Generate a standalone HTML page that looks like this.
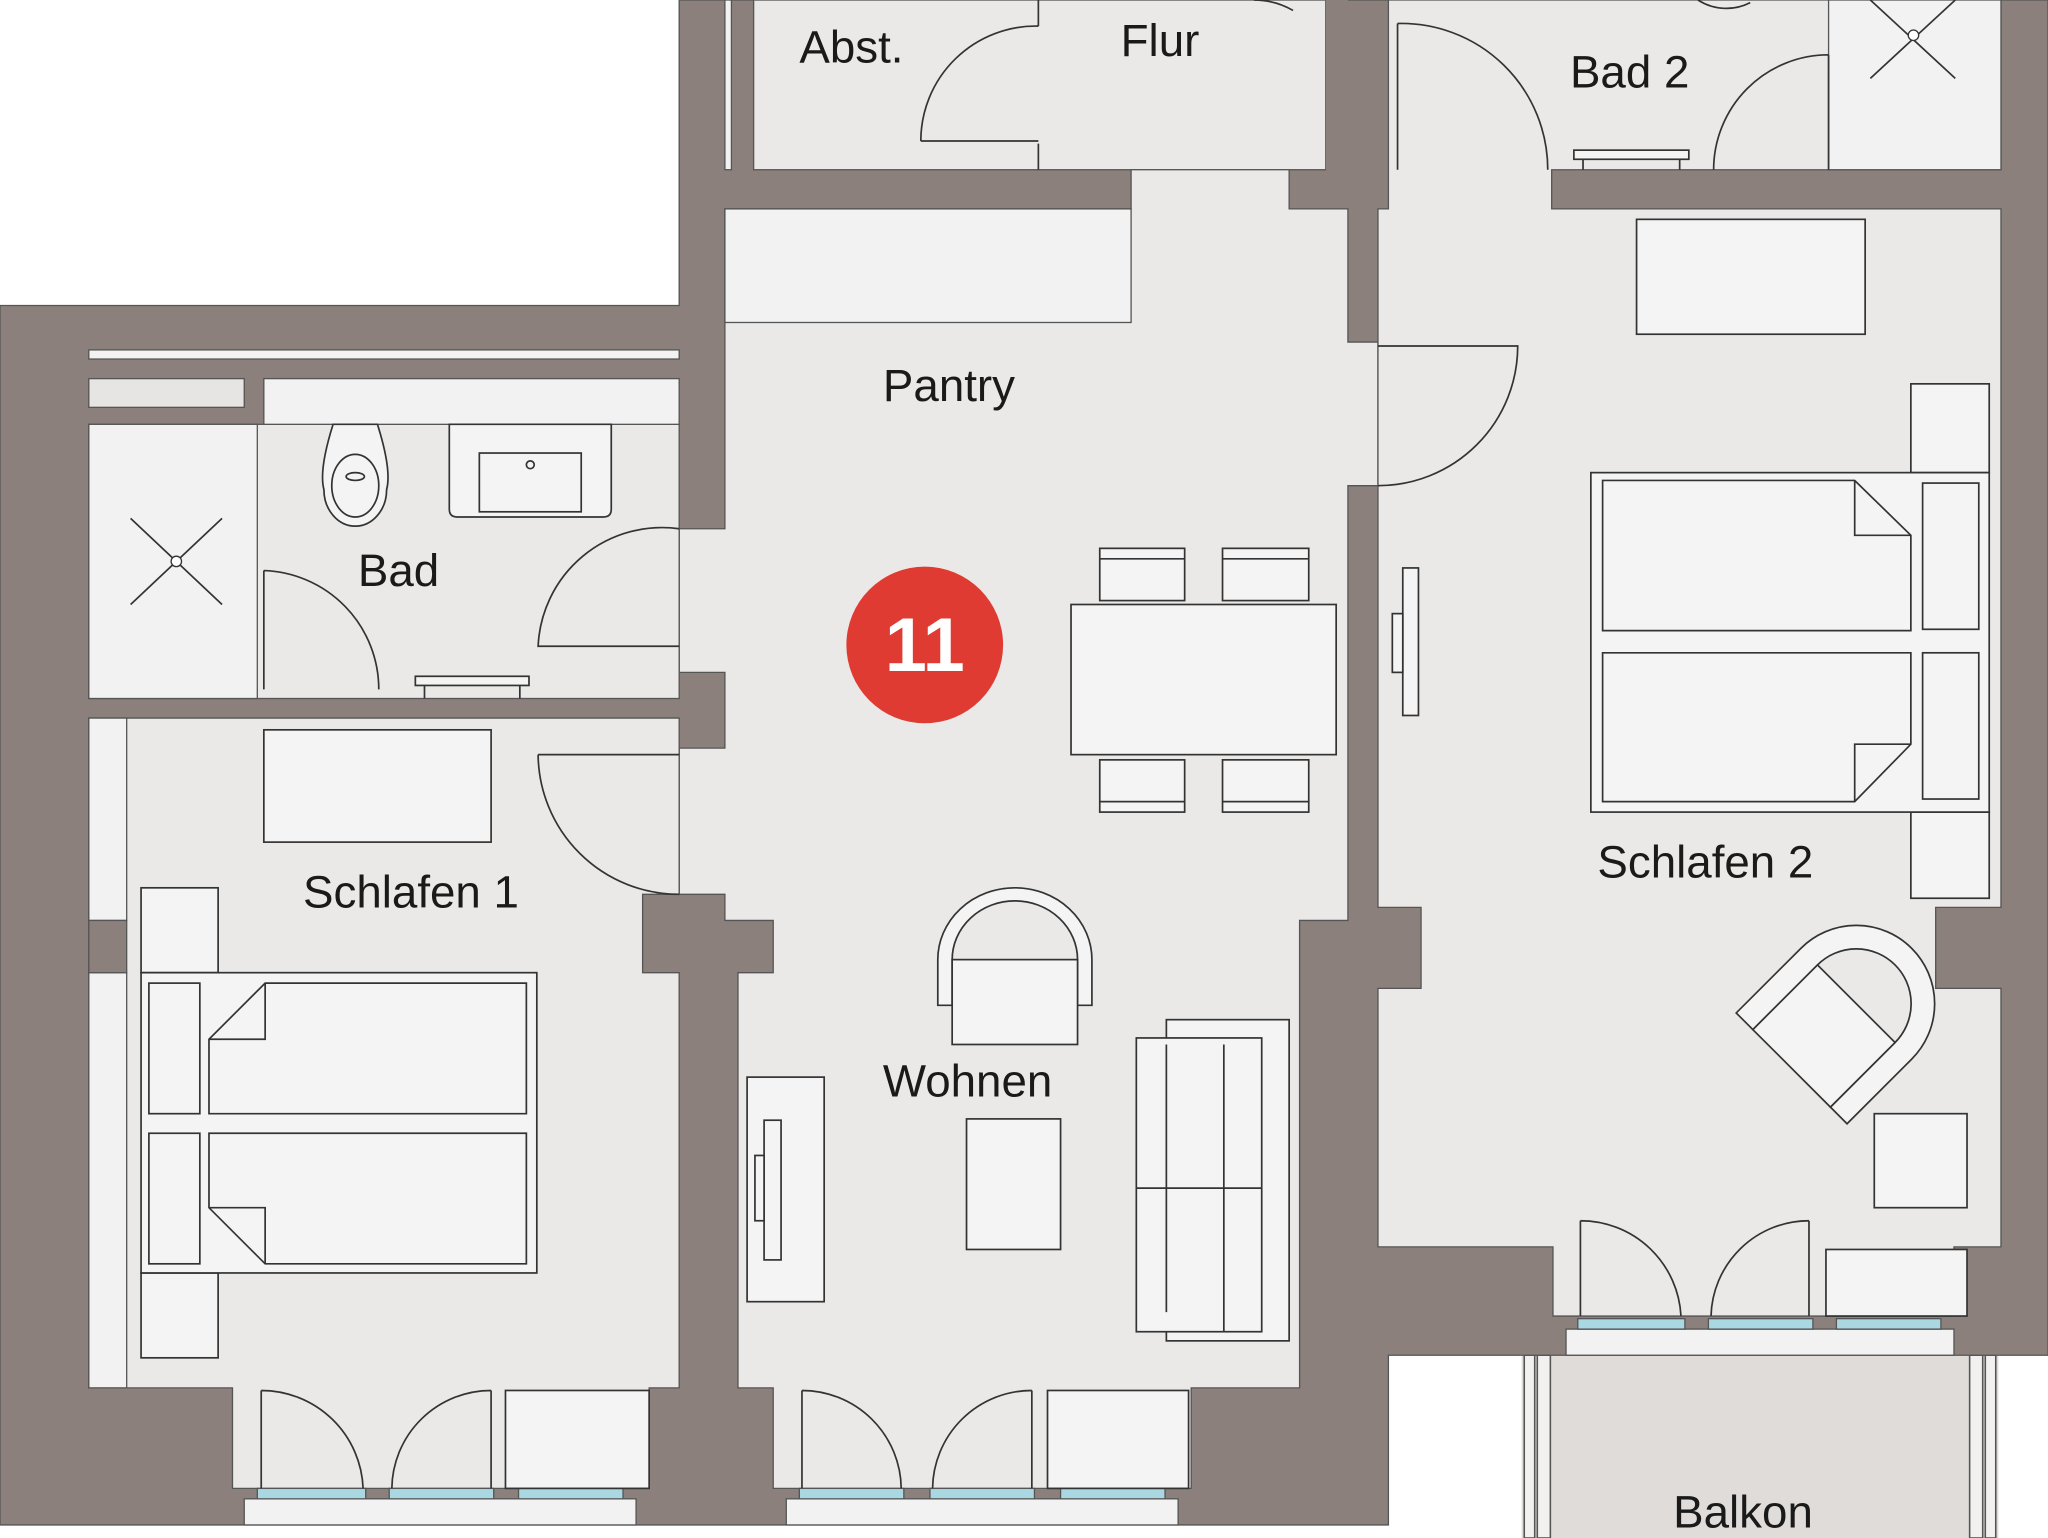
<!DOCTYPE html>
<html><head><meta charset="utf-8"><style>
html,body{margin:0;padding:0;background:#fff;}
svg{display:block}
text{font-family:"Liberation Sans",sans-serif;font-size:35px;fill:#1a1a1a;}
</style></head><body>
<svg width="2048" height="1538" viewBox="0 0 1568 1178" preserveAspectRatio="none" xmlns="http://www.w3.org/2000/svg">
<rect width="1568" height="1178" fill="#fff"/>
<rect x="1165" y="1038" width="365" height="140" fill="#dfdcda"/>
<g stroke="#555" stroke-width="1.2" fill="#f2f1f0">
<rect x="1167" y="1038" width="8" height="140"/><rect x="1177" y="1038" width="10" height="140"/>
<rect x="1508" y="1038" width="10" height="140"/><rect x="1520" y="1038" width="8" height="140"/>
</g>
<path d="M0,234 L520,234 L520,0 L1568,0 L1568,1038 L1063,1038 L1063,1168 L0,1168 Z" fill="#8b807b" stroke="#555" stroke-width="1"/>
<g fill="#eae9e7" stroke="#555" stroke-width="1">
<rect x="577" y="0" width="438" height="130"/>
<rect x="555" y="0" width="5" height="130" fill="#f3f2f2"/>
<path d="M555,160 L866,160 L866,130 L987,130 L987,160 L1032,160 L1032,262 L1055,262 L1055,372 L1032,372 L1032,705 L995,705 L995,1063 L912,1063 L912,1140 L592,1140 L592,1063 L565,1063 L565,745 L592,745 L592,705 L555,705 L555,685 L520,685 L520,573 L555,573 L555,515 L520,515 L520,405 L555,405 Z"/>
<rect x="1015" y="0" width="17" height="130" fill="#8b807b" stroke="none"/>
<path d="M1063,0 L1532,0 L1532,130 L1188,130 L1188,160 L1532,160 L1532,695 L1482,695 L1482,757 L1532,757 L1532,955 L1496,955 L1496,1008 L1189,1008 L1189,955 L1055,955 L1055,757 L1088,757 L1088,695 L1055,695 L1055,160 L1063,160 Z"/>
<rect x="68" y="325" width="452" height="210"/>
<path d="M68,550 L520,550 L520,685 L492,685 L492,745 L520,745 L520,1063 L497,1063 L497,1140 L178,1140 L178,1063 L68,1063 Z"/>
</g>
<g fill="#f3f2f2" stroke="#555" stroke-width="1">
<rect x="555" y="160" width="311" height="87"/>
<rect x="68" y="268" width="452" height="7"/>
<rect x="68" y="290" width="119" height="22" fill="#e6e5e3"/>
<rect x="202" y="290" width="318" height="35"/>
<rect x="68" y="325" width="129" height="210"/>
<rect x="68" y="550" width="29" height="155"/>
<rect x="68" y="745" width="29" height="318"/>
<rect x="68" y="705" width="29" height="40" fill="#8b807b"/>
<rect x="1400" y="0" width="132" height="130"/>
<rect x="187" y="1148" width="300" height="20"/>
<rect x="602" y="1148" width="300" height="20"/>
<rect x="1199" y="1018" width="297" height="20"/>
</g>
<g fill="#a9d8e3" stroke="#555" stroke-width="1">
<rect x="197" y="1140" width="83" height="8"/><rect x="298" y="1140" width="80" height="8"/><rect x="397" y="1140" width="80" height="8"/>
<rect x="612" y="1140" width="80" height="8"/><rect x="712" y="1140" width="80" height="8"/><rect x="812" y="1140" width="80" height="8"/>
<rect x="1208" y="1010" width="82" height="8"/><rect x="1308" y="1010" width="80" height="8"/><rect x="1406" y="1010" width="80" height="8"/>
</g>
<g fill="none" stroke="#333" stroke-width="1.3">
<path d="M202,437 L202,528 M202,437 A91,91 0 0 1 290,528"/>
<path d="M520,405 A95,95 0 0 0 412,495 L520,495"/>
<path d="M412,578 L520,578 M412,578 A108,108 0 0 0 520,685"/>
<path d="M1055,265 L1162,265 A107,107 0 0 1 1055,372"/>
<path d="M1070,18 L1070,130 M1070,18 A112,112 0 0 1 1185,130"/>
<path d="M1400,42 L1400,130 M1312,130 A88,88 0 0 1 1400,42"/>
<path d="M705,108 L795,108 M705,108 A88,88 0 0 1 795,20 M795,0 L795,20 M795,110 L795,130"/>
<path d="M960,0 A60,60 0 0 1 990,8"/>
<path d="M1300,0 A40,40 0 0 0 1340,2"/>
<path d="M200,1065 L200,1140 M200,1065 A78,78 0 0 1 278,1140"/>
<path d="M376,1065 L376,1140 M376,1065 A76,76 0 0 0 300,1140"/>
<path d="M614,1065 L614,1140 M614,1065 A76,76 0 0 1 690,1140"/>
<path d="M790,1065 L790,1140 M790,1065 A76,76 0 0 0 714,1140"/>
<path d="M1210,935 L1210,1008 M1210,935 A77,77 0 0 1 1287,1008"/>
<path d="M1385,935 L1385,1008 M1385,935 A75,75 0 0 0 1310,1008"/>
<path d="M100,397 L170,463 M170,397 L100,463"/>
<path d="M1432,0 L1497,60 M1497,0 L1432,60"/>
</g>
<circle cx="135" cy="430" r="4" fill="#fff" stroke="#333"/>
<circle cx="1465" cy="27" r="4" fill="#fff" stroke="#333"/>
<g fill="#f4f4f4" stroke="#333" stroke-width="1.3">
<rect x="387" y="1065" width="110" height="75"/>
<rect x="802" y="1065" width="108" height="75"/>
<rect x="1398" y="957" width="108" height="51"/>
<path d="M255,325 L289,325 Q300,360 296,375 A24,28 0 0 1 248,375 Q244,360 255,325 Z"/>
<ellipse cx="272" cy="372" rx="18" ry="24"/>
<ellipse cx="272" cy="365" rx="7" ry="3"/>
<path d="M344,325 L468,325 L468,390 Q468,396 462,396 L350,396 Q344,396 344,390 Z"/>
<rect x="367" y="347" width="78" height="45"/>
<circle cx="406" cy="356" r="3"/>
<rect x="318" y="518" width="87" height="7"/><path d="M325,525 L325,535 M398,525 L398,535"/>
<rect x="1205" y="115" width="88" height="7"/><path d="M1212,122 L1212,130 M1286,122 L1286,130"/>
<rect x="1253" y="168" width="175" height="88"/>
<rect x="1463" y="294" width="60" height="68"/>
<rect x="1463" y="622" width="60" height="66"/>
<rect x="1218" y="362" width="305" height="260"/>
<path d="M1227,368 L1420,368 L1463,410 L1463,483 L1227,483 Z"/>
<path d="M1420,368 L1420,410 L1463,410" fill="none"/>
<path d="M1227,500 L1463,500 L1463,570 L1420,614 L1227,614 Z"/>
<path d="M1420,614 L1420,570 L1463,570" fill="none"/>
<rect x="1472" y="370" width="43" height="112"/>
<rect x="1472" y="500" width="43" height="112"/>
<rect x="1074" y="435" width="12" height="113"/>
<rect x="1066" y="470" width="8" height="45"/>
<g transform="rotate(45 1400 790)">
<path d="M1340,760 A60,60 0 0 1 1460,760 L1460,830 L1442,830 L1442,760 A42,42 0 0 0 1358,760 L1358,830 L1340,830 Z"/>
<rect x="1358" y="760" width="84" height="70"/>
</g>
<rect x="1435" y="853" width="71" height="72"/>
<rect x="842" y="420" width="65" height="40"/><rect x="936" y="420" width="66" height="40"/>
<rect x="842" y="582" width="65" height="40"/><rect x="936" y="582" width="66" height="40"/>
<path d="M842,428 L907,428 M936,428 L1002,428 M842,614 L907,614 M936,614 L1002,614" fill="none"/>
<rect x="820" y="463" width="203" height="115"/>
<path d="M718,770 L718,735 A59,55 0 0 1 836,735 L836,770 L825,770 L825,735 A48,45 0 0 0 729,735 L729,770 Z"/>
<rect x="729" y="735" width="96" height="65"/>
<rect x="740" y="857" width="72" height="100"/>
<rect x="893" y="781" width="94" height="246"/>
<rect x="870" y="795" width="96" height="225"/>
<path d="M893,800 L893,1005 M937,800 L937,1020 M870,910 L966,910" fill="none"/>
<rect x="572" y="825" width="59" height="172"/>
<rect x="585" y="858" width="13" height="107"/>
<rect x="578" y="885" width="7" height="50"/>
<rect x="202" y="559" width="174" height="86"/>
<rect x="108" y="680" width="59" height="65"/>
<rect x="108" y="975" width="59" height="65"/>
<rect x="108" y="745" width="303" height="230"/>
<rect x="114" y="753" width="39" height="100"/>
<rect x="114" y="868" width="39" height="100"/>
<path d="M203,753 L403,753 L403,853 L160,853 L160,796 Z"/>
<path d="M203,753 L203,796 L160,796" fill="none"/>
<path d="M160,868 L403,868 L403,968 L203,968 L160,925 Z"/>
<path d="M160,925 L203,925 L203,968" fill="none"/>
</g>
<circle cx="708" cy="494" r="60" fill="#e03b33"/>
<text x="708" y="514" text-anchor="middle" style="font-size:58px;font-weight:bold;fill:#fff">11</text>
<text x="612" y="48">Abst.</text>
<text x="858" y="43">Flur</text>
<text x="1202" y="67">Bad 2</text>
<text x="676" y="307">Pantry</text>
<text x="274" y="449">Bad</text>
<text x="232" y="695">Schlafen 1</text>
<text x="676" y="840">Wohnen</text>
<text x="1223" y="672">Schlafen 2</text>
<text x="1281" y="1170">Balkon</text>
</svg>
</body></html>
